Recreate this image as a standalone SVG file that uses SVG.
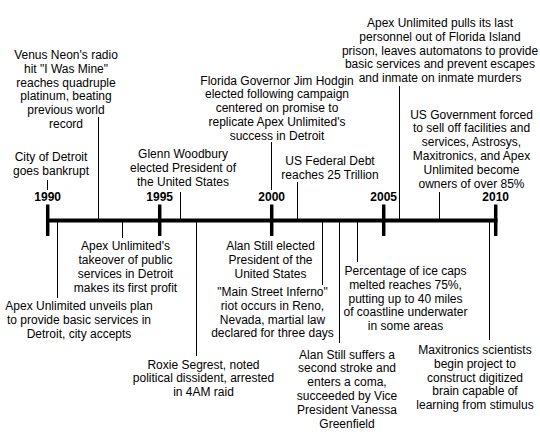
<svg xmlns="http://www.w3.org/2000/svg" width="540" height="432" viewBox="0 0 540 432">
<style>
text{font-family:"Liberation Sans",Arial,sans-serif;font-size:12px;fill:#000;text-anchor:middle}
.yr{font-weight:bold}
.c{stroke:#000;stroke-width:1;fill:none}
.axis{stroke:#000;stroke-width:4;fill:none}
.tick{stroke:#000;stroke-width:3.5;fill:none}
</style>
<rect width="540" height="432" fill="#fff"/>
<g id="timeline">
<line class="axis" x1="46" y1="220.5" x2="497.5" y2="220.5"/>
<line class="tick" x1="47.7" y1="204.5" x2="47.7" y2="236"/>
<line class="tick" x1="159.7" y1="204.5" x2="159.7" y2="236"/>
<line class="tick" x1="271.7" y1="204.5" x2="271.7" y2="236"/>
<line class="tick" x1="383.7" y1="204.5" x2="383.7" y2="236"/>
<line class="tick" x1="495.7" y1="204.5" x2="495.7" y2="236"/>
<text class="yr" x="47.7" y="200.5">1990</text>
<text class="yr" x="159.7" y="200.5">1995</text>
<text class="yr" x="271.7" y="200.5">2000</text>
<text class="yr" x="383.7" y="200.5">2005</text>
<text class="yr" x="495.7" y="200.5">2010</text>
</g>
<g id="connectors">
<line class="c" x1="47.5" y1="180" x2="47.5" y2="190"/>
<line class="c" x1="98.5" y1="117" x2="98.5" y2="220"/>
<line class="c" x1="180.5" y1="192" x2="180.5" y2="220"/>
<line class="c" x1="271.5" y1="142" x2="271.5" y2="190"/>
<line class="c" x1="297.5" y1="182" x2="297.5" y2="220"/>
<line class="c" x1="399.5" y1="86" x2="399.5" y2="220"/>
<line class="c" x1="439.5" y1="192" x2="439.5" y2="220"/>
<line class="c" x1="57.5" y1="220" x2="57.5" y2="298"/>
<line class="c" x1="122.5" y1="220" x2="122.5" y2="238"/>
<line class="c" x1="196.5" y1="220" x2="196.5" y2="356"/>
<line class="c" x1="322.5" y1="220" x2="322.5" y2="285"/>
<line class="c" x1="339.5" y1="220" x2="339.5" y2="343"/>
<line class="c" x1="357.5" y1="220" x2="357.5" y2="262"/>
<line class="c" x1="489.5" y1="220" x2="489.5" y2="340"/>
</g>
<g id="e1990-detroit">
<text x="51" y="161">City of Detroit</text>
<text x="51" y="175">goes bankrupt</text>
</g>
<g id="e-venus">
<text x="66" y="59">Venus Neon's radio</text>
<text x="66" y="72.8">hit "I Was Mine"</text>
<text x="66" y="86.6">reaches quadruple</text>
<text x="66" y="100.4">platinum, beating</text>
<text x="66" y="114.2">previous world</text>
<text x="66" y="128">record</text>
</g>
<g id="e-glenn">
<text x="183" y="158">Glenn Woodbury</text>
<text x="183" y="171.8">elected President of</text>
<text x="183" y="185.6">the United States</text>
</g>
<g id="e-florida">
<text x="277" y="84.5">Florida Governor Jim Hodgin</text>
<text x="277" y="98.3">elected following campaign</text>
<text x="277" y="112.1">centered on promise to</text>
<text x="277" y="125.9">replicate Apex Unlimited's</text>
<text x="277" y="139.7">success in Detroit</text>
</g>
<g id="e-debt">
<text x="330" y="165">US Federal Debt</text>
<text x="330" y="178.8">reaches 25 Trillion</text>
</g>
<g id="e-apex-pulls">
<text x="440" y="27">Apex Unlimited pulls its last</text>
<text x="440" y="40.8">personnel out of Florida Island</text>
<text x="440" y="54.6">prison, leaves automatons to provide</text>
<text x="440" y="68.4">basic services and prevent escapes</text>
<text x="440" y="82.2">and inmate on inmate murders</text>
</g>
<g id="e-usgov">
<text x="471.5" y="118.5">US Government forced</text>
<text x="471.5" y="132.3">to sell off facilities and</text>
<text x="471.5" y="146.1">services, Astrosys,</text>
<text x="471.5" y="159.9">Maxitronics, and Apex</text>
<text x="471.5" y="173.7">Unlimited become</text>
<text x="471.5" y="187.5">owners of over 85%</text>
</g>
<g id="e-apex-plan">
<text x="79" y="310.3">Apex Unlimited unveils plan</text>
<text x="79" y="324.1">to provide basic services in</text>
<text x="79" y="337.9">Detroit, city accepts</text>
</g>
<g id="e-apex-profit">
<text x="125.5" y="250.3">Apex Unlimited's</text>
<text x="125.5" y="264.1">takeover of public</text>
<text x="125.5" y="277.9">services in Detroit</text>
<text x="125.5" y="291.7">makes its first profit</text>
</g>
<g id="e-roxie">
<text x="203.5" y="368.5">Roxie Segrest, noted</text>
<text x="203.5" y="382.3">political dissident, arrested</text>
<text x="203.5" y="396.1">in 4AM raid</text>
</g>
<g id="e-alan-elected">
<text x="270.5" y="250.3">Alan Still elected</text>
<text x="270.5" y="264.1">President of the</text>
<text x="270.5" y="277.9">United States</text>
</g>
<g id="e-mainstreet">
<text x="272.5" y="296">"Main Street Inferno"</text>
<text x="272.5" y="309.8">riot occurs in Reno,</text>
<text x="272.5" y="323.6">Nevada, martial law</text>
<text x="272.5" y="337.4">declared for three days</text>
</g>
<g id="e-alan-stroke">
<text x="347" y="358.5">Alan Still suffers a</text>
<text x="347" y="372.3">second stroke and</text>
<text x="347" y="386.1">enters a coma,</text>
<text x="347" y="399.9">succeeded by Vice</text>
<text x="347" y="413.7">President Vanessa</text>
<text x="347" y="427.5">Greenfield</text>
</g>
<g id="e-icecaps">
<text x="405.5" y="275">Percentage of ice caps</text>
<text x="405.5" y="288.8">melted reaches 75%,</text>
<text x="405.5" y="302.6">putting up to 40 miles</text>
<text x="405.5" y="316.4">of coastline underwater</text>
<text x="405.5" y="330.2">in some areas</text>
</g>
<g id="e-maxitronics">
<text x="475" y="354">Maxitronics scientists</text>
<text x="475" y="367.8">begin project to</text>
<text x="475" y="381.6">construct digitized</text>
<text x="475" y="395.4">brain capable of</text>
<text x="475" y="409.2">learning from stimulus</text>
</g>
</svg>
